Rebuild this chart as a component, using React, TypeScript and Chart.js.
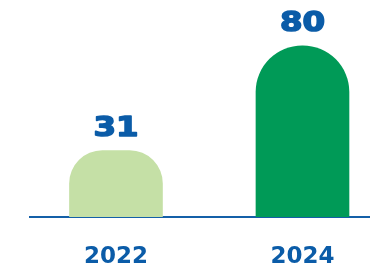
import React, { useEffect, useRef } from "react";
import { Chart, registerables } from "chart.js";

Chart.register(...registerables);

const years = [2022, 2024];
const values = [31, 80];
const barColors = ["#c5e0a6", "#009a57"];
const textBlue = "#0b5ca8";
const axisBlue = "#1460a8";

const valueLabels = {
  id: "valueLabels",
  afterDatasetsDraw(chart: any) {
    const ctx = chart.ctx;
    const meta = chart.getDatasetMeta(0);
    ctx.save();
    ctx.fillStyle = textBlue;
    ctx.strokeStyle = textBlue;
    ctx.lineWidth = 1.5;
    ctx.lineJoin = "round";
    ctx.font = "bold 27px 'DejaVu Sans'";
    ctx.textAlign = "center";
    ctx.textBaseline = "alphabetic";
    meta.data.forEach((bar: any, i: number) => {
      ctx.save();
      ctx.translate(bar.x, bar.y - 15);
      ctx.scale(1.2, 1);
      ctx.fillText(String(values[i]), 0, 0);
      ctx.strokeText(String(values[i]), 0, 0);
      ctx.restore();
    });
    ctx.restore();
  },
};

export default function App() {
  const ref = useRef<HTMLCanvasElement>(null);
  useEffect(() => {
    document.body.style.margin = "0";
    const chart = new Chart(ref.current!, {
      type: "bar",
      data: {
        datasets: [
          {
            data: years.map((y, i) => ({ x: y, y: values[i] })),
            backgroundColor: barColors,
            borderRadius: 999,
            borderSkipped: "start",
            barThickness: 93,
          },
        ],
      },
      options: {
        responsive: false,
        animation: false,
        layout: { padding: { top: 3, left: 30, right: 0, bottom: 0 } },
        plugins: { legend: { display: false }, tooltip: { enabled: false } },
        scales: {
          x: {
            type: "linear",
            offset: false,
            min: 2021.078,
            max: 2024.724,
            grid: { display: false, offset: false },
            border: { display: true, color: axisBlue, width: 2 },
            afterBuildTicks: (scale: any) => {
              scale.ticks = years.map((v) => ({ value: v }));
            },
            afterFit: (scale: any) => {
              scale.height = 50;
            },
            ticks: {
              autoSkip: false,
              padding: 18,
              color: textBlue,
              font: { family: "'DejaVu Sans'", weight: "bold", size: 23 },
              callback: (v: any) => String(v),
            },
          },
          y: {
            display: false,
            min: 0,
            max: 100,
          },
        },
      },
      plugins: [valueLabels],
    });
    return () => chart.destroy();
  }, []);
  return (
    <div style={{ width: 370, height: 267 }}>
      <canvas ref={ref} width={370} height={267} />
    </div>
  );
}
